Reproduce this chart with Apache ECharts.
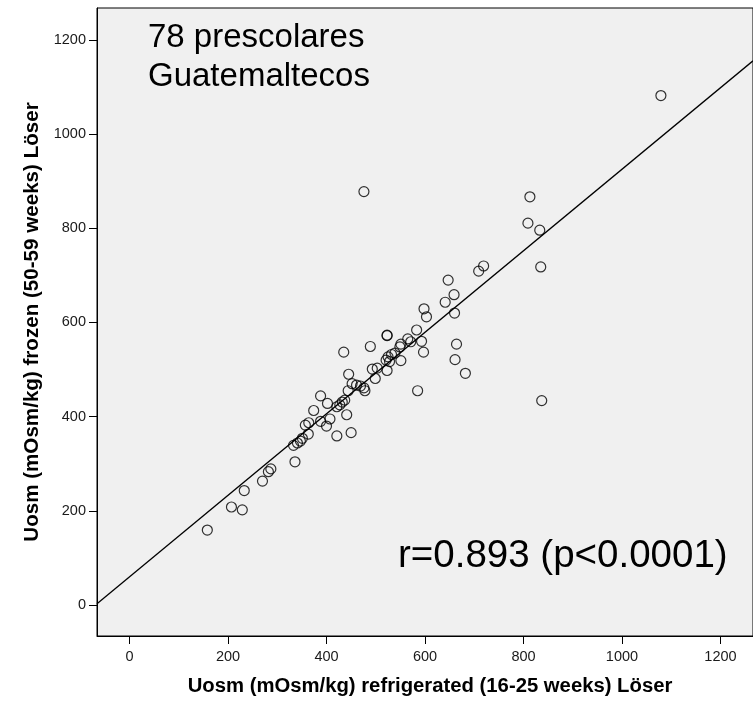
<!DOCTYPE html>
<html>
<head>
<meta charset="utf-8">
<title>Uosm refrigerated vs frozen</title>
<script src="https://cdn.jsdelivr.net/npm/echarts@6/dist/echarts.min.js"></script>
<style>
  html, body { margin: 0; padding: 0; background: #ffffff; }
  #chart { width: 753px; height: 701px; }
</style>
</head>
<body>
<div id="chart"></div>
<script>
// Urine osmolality (mOsm/kg), Löser method: refrigerated (16-25 weeks) vs frozen (50-59 weeks)
var refrigerated = [158,207,229,233,270,282,287,336,333,341,347,351,363,357,364,374,388,402,388,407,
  400,421,421,427,432,437,441,450,444,445,435,452,461,469,476,478,489,493,503,499,
  523,521,525,532,539,528,551,551,549,523,523,565,571,593,597,583,598,603,585,647,
  659,641,660,664,661,682,709,719,813,809,833,835,837,1079,476];
var frozen = [159,208,202,243,263,283,289,304,339,344,348,354,363,382,387,413,444,428,390,395,
  380,359,421,425,431,435,404,366,455,490,537,470,467,465,461,455,549,501,503,481,
  498,520,527,532,535,517,519,554,548,573,572,565,559,560,537,584,629,612,455,690,
  659,643,620,554,521,492,709,720,867,811,796,718,434,1082,878];

var xTicks = [0, 200, 400, 600, 800, 1000, 1200];
var yTicks = [0, 200, 400, 600, 800, 1000, 1200];

// fitted line frozen = intercept + slope * refrigerated
var fitIntercept = 59.5;
var fitSlope = 0.866;

var xMin = -66, xMax = 1266;
var yMin = -66, yMax = 1268;

var points = refrigerated.map(function (x, i) { return [x, frozen[i]]; });
var fitLine = [[xMin, fitIntercept + fitSlope * xMin], [xMax, fitIntercept + fitSlope * xMax]];

var FONT = "'Liberation Sans', Arial, Helvetica, sans-serif";
function plain(v) { return String(v); }

var chart = echarts.init(document.getElementById('chart'), null, { renderer: 'canvas' });

chart.setOption({
  animation: false,
  backgroundColor: '#ffffff',
  grid: {
    left: 97, top: 8, right: -10, bottom: 65,
    show: true,
    backgroundColor: '#f0f0f0',
    borderColor: '#000000',
    borderWidth: 1
  },
  xAxis: {
    type: 'value',
    min: xMin, max: xMax,
    name: 'Uosm (mOsm/kg) refrigerated (16-25 weeks) Löser',
    nameLocation: 'middle',
    nameGap: 40,
    nameTextStyle: { fontFamily: FONT, fontWeight: 'bold', fontSize: 20.3, color: '#000', padding: [0, 0, 0, 10] },
    axisLine: { show: true, onZero: false, lineStyle: { color: '#000', width: 1 } },
    axisTick: { show: true, length: 8, customValues: xTicks, lineStyle: { color: '#000', width: 1 } },
    axisLabel: { customValues: xTicks, formatter: plain, margin: 13, fontFamily: FONT, fontSize: 14.5, color: '#1a1a1a' },
    splitLine: { show: false }
  },
  yAxis: {
    type: 'value',
    min: yMin, max: yMax,
    name: 'Uosm (mOsm/kg) frozen (50-59 weeks) Löser',
    nameLocation: 'middle',
    nameGap: 54,
    nameTextStyle: { fontFamily: FONT, fontWeight: 'bold', fontSize: 20.6, color: '#000' },
    axisLine: { show: true, onZero: false, lineStyle: { color: '#000', width: 1 } },
    axisTick: { show: true, length: 8, customValues: yTicks, lineStyle: { color: '#000', width: 1 } },
    axisLabel: { customValues: yTicks, formatter: plain, margin: 11, fontFamily: FONT, fontSize: 14.5, color: '#1a1a1a' },
    splitLine: { show: false }
  },
  series: [
    {
      type: 'line',
      data: fitLine,
      showSymbol: false,
      symbol: 'none',
      clip: true,
      silent: true,
      lineStyle: { color: '#000', width: 1.3 },
      z: 2
    },
    {
      type: 'scatter',
      data: points,
      symbol: 'circle',
      symbolSize: 10,
      itemStyle: { color: 'rgba(0,0,0,0)', borderColor: '#000', borderWidth: 1.2 },
      z: 3
    }
  ],
  graphic: [
    {
      type: 'text',
      left: 148, top: 21,
      style: { text: '78 prescolares', font: '33px ' + FONT, fill: '#000' }
    },
    {
      type: 'text',
      left: 148, top: 60,
      style: { text: 'Guatemaltecos', font: '33px ' + FONT, fill: '#000' }
    },
    {
      type: 'text',
      left: 398, top: 537,
      style: { text: 'r=0.893 (p<0.0001)', font: '38.5px ' + FONT, fill: '#000' }
    }
  ]
});
</script>
</body>
</html>
